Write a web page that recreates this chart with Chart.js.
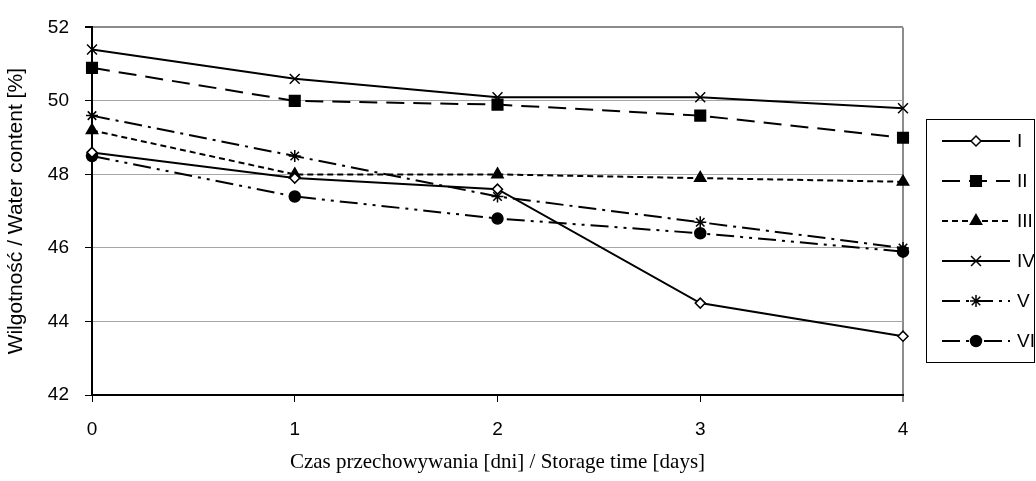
<!DOCTYPE html>
<html>
<head>
<meta charset="utf-8">
<script src="https://cdn.jsdelivr.net/npm/chart.js@4.4.1/dist/chart.umd.min.js"></script>
<style>
  html, body { margin: 0; padding: 0; background: #fff; }
  #wrap { width: 1036px; height: 481px; position: relative; }
</style>
</head>
<body>
<div id="wrap"><canvas id="chart"></canvas></div>
<script>
const days = ['0', '1', '2', '3', '4'];
const seriesNames = ['I', 'II', 'III', 'IV', 'V', 'VI'];

const valuesI = [48.6, 47.9, 47.6, 44.5, 43.6];
const valuesII = [50.9, 50.0, 49.9, 49.6, 49.0];
const valuesIII = [49.2, 48.0, 48.0, 47.9, 47.8];
const valuesIV = [51.4, 50.6, 50.1, 50.1, 49.8];
const valuesV = [49.6, 48.5, 47.4, 46.7, 46.0];
const valuesVI = [48.5, 47.4, 46.8, 46.4, 45.9];

const yTicks = [42, 44, 46, 48, 50, 52];

const seriesValues = [valuesI, valuesII, valuesIII, valuesIV, valuesV, valuesVI];

// line + marker look of each series
const styles = [
    { dash: [], point: 'rectRot', radius: 5, fill: '#fff' },
    { dash: [18, 9], point: 'rect', radius: 7.5, fill: '#000' },
    { dash: [6, 4], point: 'triangle', radius: 6.5, fill: '#000' },
    { dash: [], point: 'crossRot', radius: 7, fill: '#000' },
    { dash: [18, 6, 3, 6], point: 'star', radius: 6, fill: '#000' },
    { dash: [18, 6, 3, 6, 3, 6], point: 'circle', radius: 5.5, fill: '#000' }
];

const datasets = seriesNames.map((name, i) => ({
    label: name,
    data: seriesValues[i],
    borderColor: '#000',
    borderWidth: 2,
    borderDash: styles[i].dash,
    pointStyle: styles[i].point,
    pointRadius: styles[i].radius,
    pointHoverRadius: styles[i].radius,
    pointBackgroundColor: styles[i].fill,
    pointBorderColor: '#000',
    pointBorderWidth: 1.5,
    tension: 0,
    fill: false
}));

// legend box drawn on the right, Excel style
const boxLegend = {
    id: 'boxLegend',
    afterDraw(chart) {
        const ctx = chart.ctx;
        ctx.save();
        ctx.strokeStyle = '#000';
        ctx.lineWidth = 1;
        ctx.setLineDash([]);
        ctx.strokeRect(926.5, 119.5, 108, 243);
        ctx.font = '19px "Liberation Sans", Arial, sans-serif';
        ctx.textBaseline = 'middle';
        ctx.textAlign = 'left';
        seriesNames.forEach((name, i) => {
            const y = 141 + i * 40;
            ctx.strokeStyle = '#000';
            ctx.lineWidth = 2;
            ctx.setLineDash(styles[i].dash);
            ctx.beginPath();
            ctx.moveTo(942, y);
            ctx.lineTo(1010, y);
            ctx.stroke();
            ctx.setLineDash([]);
            ctx.fillStyle = styles[i].fill;
            ctx.lineWidth = 1.5;
            if (Chart.helpers && Chart.helpers.drawPoint) {
                Chart.helpers.drawPoint(ctx, {
                    pointStyle: styles[i].point,
                    radius: styles[i].radius,
                    rotation: 0,
                    borderWidth: 1.5
                }, 976, y);
            }
            ctx.fillStyle = '#000';
            ctx.fillText(name, 1017, y + 1);
        });
        ctx.restore();
    }
};

new Chart(document.getElementById('chart'), {
    type: 'line',
    data: { labels: days, datasets: datasets },
    options: {
        responsive: true,
        maintainAspectRatio: false,
        animation: false,
        layout: { padding: { top: 20, right: 133, left: 0, bottom: 0 } },
        plugins: {
            legend: { display: false },
            tooltip: { enabled: false }
        },
        scales: {
            x: {
                type: 'category',
                offset: false,
                afterFit: s => { s.height = 86; },
                border: { color: '#000', width: 2 },
                grid: {
                    offset: false,
                    drawOnChartArea: true,
                    color: c => c.index === days.length - 1 ? '#8c8c8c' : 'rgba(0,0,0,0)',
                    lineWidth: c => c.index === days.length - 1 ? 2 : 1,
                    tickColor: '#000',
                    tickLength: 7,
                    tickWidth: 1
                },
                ticks: {
                    color: '#000',
                    padding: 16,
                    maxRotation: 0,
                    font: { family: '"Liberation Sans", Arial, sans-serif', size: 19 }
                },
                title: {
                    display: true,
                    text: 'Czas przechowywania [dni] / Storage time [days]',
                    color: '#000',
                    padding: { top: 0, bottom: 6 },
                    font: { family: '"Liberation Serif", "Times New Roman", serif', size: 21 }
                }
            },
            y: {
                min: 42,
                max: 52,
                afterFit: s => { s.width = 92; },
                afterBuildTicks: s => { s.ticks = yTicks.map(v => ({ value: v })); },
                border: { color: '#000', width: 2 },
                grid: {
                    color: c => c.tick && c.tick.value === 52 ? '#8c8c8c' : '#a6a6a6',
                    lineWidth: c => c.tick && c.tick.value === 52 ? 2 : 1,
                    tickColor: '#000',
                    tickLength: 7
                },
                ticks: {
                    color: '#000',
                    padding: 16,
                    font: { family: '"Liberation Sans", Arial, sans-serif', size: 19 }
                },
                title: {
                    display: true,
                    text: 'Wilgotność / Water content [%]',
                    color: '#000',
                    padding: { top: 4, bottom: 0 },
                    font: { family: '"Liberation Sans", Arial, sans-serif', size: 21 }
                }
            }
        }
    },
    plugins: [boxLegend]
});
</script>
</body>
</html>
